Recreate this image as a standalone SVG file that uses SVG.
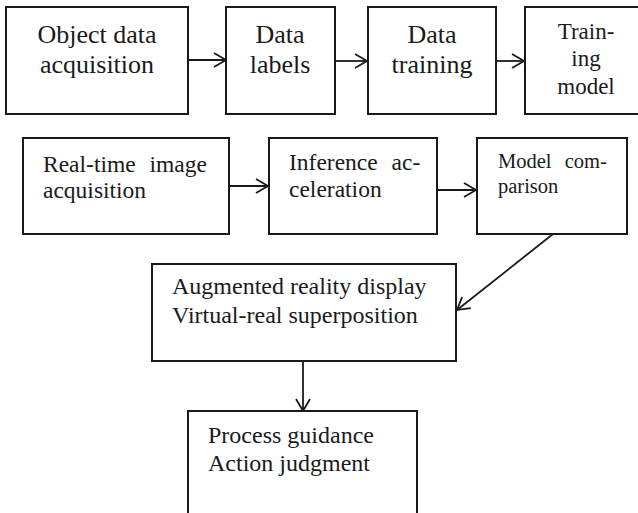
<svg xmlns="http://www.w3.org/2000/svg" width="638" height="513" viewBox="0 0 638 513">
<style>
.box{fill:#fff;stroke:#1a1a1a;stroke-width:2}
.c{fill:none;stroke:#1a1a1a;stroke-width:1.8}
text{font-family:"Liberation Serif","Times New Roman",serif;fill:#1a1a1a}
.t1{font-size:26px;text-anchor:middle}
.t2{font-size:23.5px}
.t3{font-size:20.5px}
</style>
<defs>
<marker id="ah" markerUnits="userSpaceOnUse" markerWidth="16" markerHeight="18" refX="13" refY="8" orient="auto" viewBox="0 0 16 16">
<path d="M1,1 L13,8 L1,15" fill="none" stroke="#1a1a1a" stroke-width="1.8"/>
</marker>
</defs>
<rect width="638" height="513" fill="#fff"/>
<g id="connectors">
<line class="c" x1="188" y1="60" x2="226" y2="60" marker-end="url(#ah)"/>
<line class="c" x1="335" y1="61" x2="367" y2="61" marker-end="url(#ah)"/>
<line class="c" x1="496" y1="61" x2="524" y2="61" marker-end="url(#ah)"/>
<line class="c" x1="229" y1="186" x2="268" y2="186" marker-end="url(#ah)"/>
<line class="c" x1="437" y1="190" x2="476" y2="190" marker-end="url(#ah)"/>
<line class="c" x1="553" y1="234" x2="457" y2="310" marker-end="url(#ah)"/>
<line class="c" x1="303" y1="362" x2="303" y2="411" marker-end="url(#ah)"/>
</g>
<g id="n1"><rect class="box" x="6" y="7" width="182" height="107"/>
<text class="t1" x="97" y="43">Object data</text><text class="t1" x="97" y="73">acquisition</text></g>
<g id="n2"><rect class="box" x="226" y="7" width="109" height="107"/>
<text class="t1" x="280" y="43">Data</text><text class="t1" x="280" y="73">labels</text></g>
<g id="n3"><rect class="box" x="368" y="7" width="128" height="107"/>
<text class="t1" x="432" y="43">Data</text><text class="t1" x="432" y="73">training</text></g>
<g id="n4"><rect class="box" x="525" y="7" width="120" height="107"/>
<text class="t1" x="586" y="39" style="font-size:23px">Train-</text><text class="t1" x="586" y="66" style="font-size:23px">ing</text><text class="t1" x="586" y="94" style="font-size:23px">model</text></g>
<g id="n5"><rect class="box" x="23" y="138" width="206" height="96"/>
<text class="t2" x="43" y="172" word-spacing="8">Real-time image</text><text class="t2" x="43" y="198">acquisition</text></g>
<g id="n6"><rect class="box" x="269" y="138" width="168" height="96"/>
<text class="t2" x="289" y="170" word-spacing="8">Inference ac-</text><text class="t2" x="289" y="197">celeration</text></g>
<g id="n7"><rect class="box" x="477" y="138" width="150" height="96"/>
<text class="t3" x="498" y="168" word-spacing="8">Model com-</text><text class="t3" x="498" y="193">parison</text></g>
<g id="n8"><rect class="box" x="152" y="264" width="304" height="97"/>
<text class="t2" x="172" y="294" style="font-size:24px">Augmented reality display</text><text class="t2" x="172" y="323" style="font-size:24px">Virtual-real superposition</text></g>
<g id="n9"><rect class="box" x="188" y="411" width="229" height="110"/>
<text class="t2" x="208" y="443" style="font-size:24px">Process guidance</text><text class="t2" x="208" y="471" style="font-size:24px">Action judgment</text></g>
</svg>
